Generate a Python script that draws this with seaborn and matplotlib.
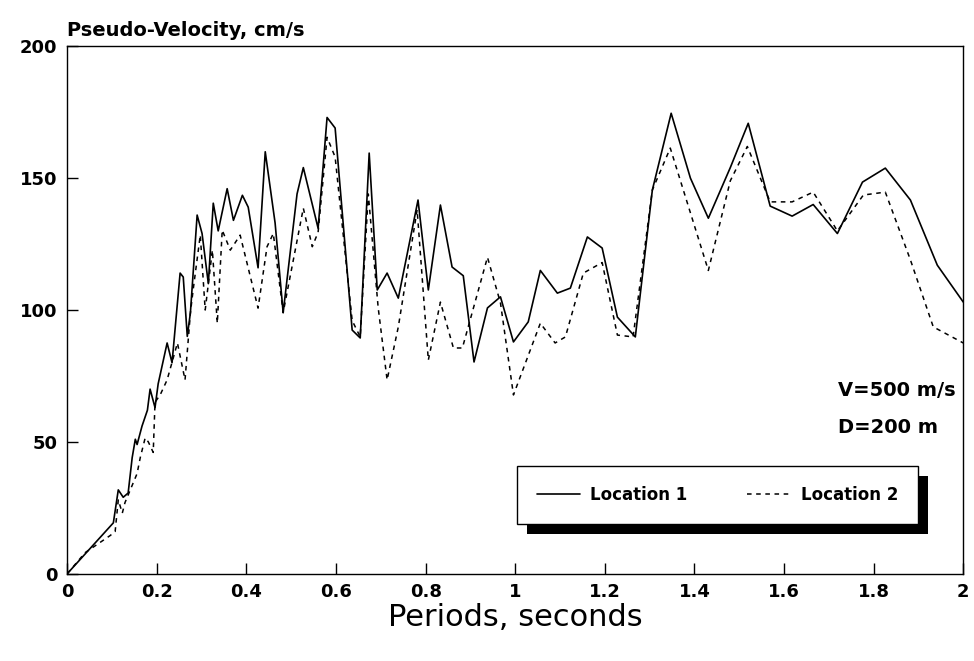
import pandas as pd
import matplotlib
matplotlib.use("Agg")
import matplotlib.pyplot as plt
import seaborn as sns
from matplotlib.patches import Rectangle

# =========================
# DATA
# =========================

period_1 = [0.0, 0.103, 0.114, 0.125, 0.136, 0.145, 0.152, 0.156, 0.167, 0.179,
            0.185, 0.196, 0.203, 0.223, 0.234, 0.252, 0.259, 0.268, 0.275, 0.29,
            0.301, 0.315, 0.326, 0.337, 0.357, 0.371, 0.391, 0.404, 0.426, 0.442,
            0.464, 0.482, 0.513, 0.527, 0.56, 0.58, 0.598, 0.636, 0.654, 0.674,
            0.692, 0.714, 0.739, 0.783, 0.806, 0.833, 0.859, 0.884, 0.908, 0.938,
            0.967, 0.996, 1.029, 1.056, 1.094, 1.123, 1.161, 1.194, 1.228, 1.268,
            1.306, 1.348, 1.391, 1.431, 1.48, 1.52, 1.569, 1.618, 1.665, 1.719,
            1.775, 1.826, 1.882, 1.942, 2.0]
velocity_1 = [0, 19.3, 31.8, 29, 30.6, 44, 51, 49, 56, 62,
              70, 63, 72, 87.5, 80, 114, 112.5, 90, 99, 136,
              129, 110, 140.5, 130, 146, 134, 143.5, 139, 116, 160,
              133, 99, 144, 154, 131, 173, 169, 92.4, 89.4, 159.5,
              107.6, 114, 104.5, 141.7, 107.6, 139.8, 116.3, 113, 80.3, 100.8,
              105, 87.9, 95.5, 115, 106.4, 108.3, 127.7, 123.5, 97.3, 89.8,
              145.5, 174.6, 150, 134.8, 154, 170.8, 139.4, 135.6, 140, 129,
              148.5, 153.8, 141.7, 117, 103]

period_2 = [0.0, 0.04, 0.096, 0.107, 0.114, 0.123, 0.129, 0.156, 0.163, 0.174,
            0.181, 0.192, 0.196, 0.208, 0.223, 0.246, 0.263, 0.275, 0.281, 0.297,
            0.308, 0.324, 0.335, 0.346, 0.364, 0.386, 0.426, 0.446, 0.46, 0.482,
            0.527, 0.547, 0.56, 0.58, 0.598, 0.636, 0.654, 0.672, 0.694, 0.714,
            0.739, 0.781, 0.806, 0.833, 0.862, 0.882, 0.938, 0.967, 0.996, 1.056,
            1.089, 1.112, 1.152, 1.194, 1.228, 1.263, 1.306, 1.346, 1.431, 1.48,
            1.518, 1.569, 1.618, 1.665, 1.719, 1.777, 1.826, 1.882, 1.933, 2.0]
velocity_2 = [0, 8, 14.5, 16, 28, 23, 27, 38, 44, 51.5,
              50, 46, 65, 68, 73.5, 87.5, 73.5, 99, 107.5, 128.4,
              100, 122.7, 95, 130.3, 122.7, 128.4, 100.7, 124, 129, 99,
              138.6, 124, 129.5, 165.5, 158, 96, 89.8, 144, 101, 73.5,
              93.6, 138, 81, 103, 85.6, 85.6, 120, 102.7, 67.8, 95,
              87.5, 89.8, 114, 118, 90.5, 89.8, 145.5, 161.4, 115, 149,
              162, 141, 141, 144.7, 130, 143.6, 144.7, 119, 93.6, 87.5]

x_ticks = [0, 0.2, 0.4, 0.6, 0.8, 1, 1.2, 1.4, 1.6, 1.8, 2]
x_tick_labels = ["0", "0.2", "0.4", "0.6", "0.8", "1", "1.2", "1.4", "1.6", "1.8", "2"]
y_ticks = [0, 50, 100, 150, 200]

df1 = pd.DataFrame({"period": period_1, "velocity": velocity_1})
df2 = pd.DataFrame({"period": period_2, "velocity": velocity_2})

# =========================
# STYLE
# =========================

sns.set_style("ticks")
plt.rcParams["font.family"] = ["DejaVu Sans"]
plt.rcParams["text.color"] = "black"
plt.rcParams["axes.labelcolor"] = "black"
plt.rcParams["xtick.color"] = "black"
plt.rcParams["ytick.color"] = "black"

fig = plt.figure(figsize=(9.74, 6.61), dpi=100)
ax = fig.add_axes([0.069, 0.132, 0.92, 0.798])

# =========================
# LINES
# =========================

sns.lineplot(data=df1, x="period", y="velocity", ax=ax, color="black",
             linewidth=1.2, sort=False, label="Location 1")
sns.lineplot(data=df2, x="period", y="velocity", ax=ax, color="black",
             linewidth=1.1, sort=False, linestyle=(0, (3, 3)), label="Location 2")

ax.set_xlim(0, 2)
ax.set_ylim(0, 200)
ax.set_xticks(x_ticks)
ax.set_xticklabels(x_tick_labels)
ax.set_yticks(y_ticks)
ax.tick_params(direction="in", length=8, width=1, labelsize=13, pad=7,
               colors="black")
for lab in ax.get_xticklabels() + ax.get_yticklabels():
    lab.set_fontweight("bold")
for sp in ax.spines.values():
    sp.set_visible(True)
    sp.set_linewidth(1.0)
    sp.set_color("black")

ax.set_xlabel("Periods, seconds", fontsize=22, labelpad=1)
ax.set_ylabel("")
ax.text(0.0, 1.012, "Pseudo-Velocity, cm/s", transform=ax.transAxes,
        fontsize=14, fontweight="bold", ha="left", va="bottom")

ax.text(0.86, 0.348, "V=500 m/s", transform=ax.transAxes,
        fontsize=14, fontweight="bold", ha="left", va="center")
ax.text(0.86, 0.2765, "D=200 m", transform=ax.transAxes,
        fontsize=14, fontweight="bold", ha="left", va="center")

# =========================
# LEGEND WITH BLACK SHADOW
# =========================

leg = ax.legend(loc="center", bbox_to_anchor=(0.7255, 0.149), ncol=2,
                frameon=True, fancybox=False, handlelength=2.6,
                columnspacing=3.6, borderpad=1.2, handletextpad=0.6,
                borderaxespad=0, prop={"weight": "bold", "size": 12})
leg.get_frame().set_edgecolor("black")
leg.get_frame().set_linewidth(1.0)
leg.get_frame().set_alpha(1)
leg.set_zorder(5)

fig.canvas.draw()
bb = leg.get_window_extent()
shadow = Rectangle((bb.x0 + 10, bb.y0 - 10), bb.width, bb.height,
                   transform=None, facecolor="black", edgecolor="none",
                   zorder=4, clip_on=False)
ax.add_artist(shadow)

plt.savefig("out.png", dpi=100, facecolor="white")
